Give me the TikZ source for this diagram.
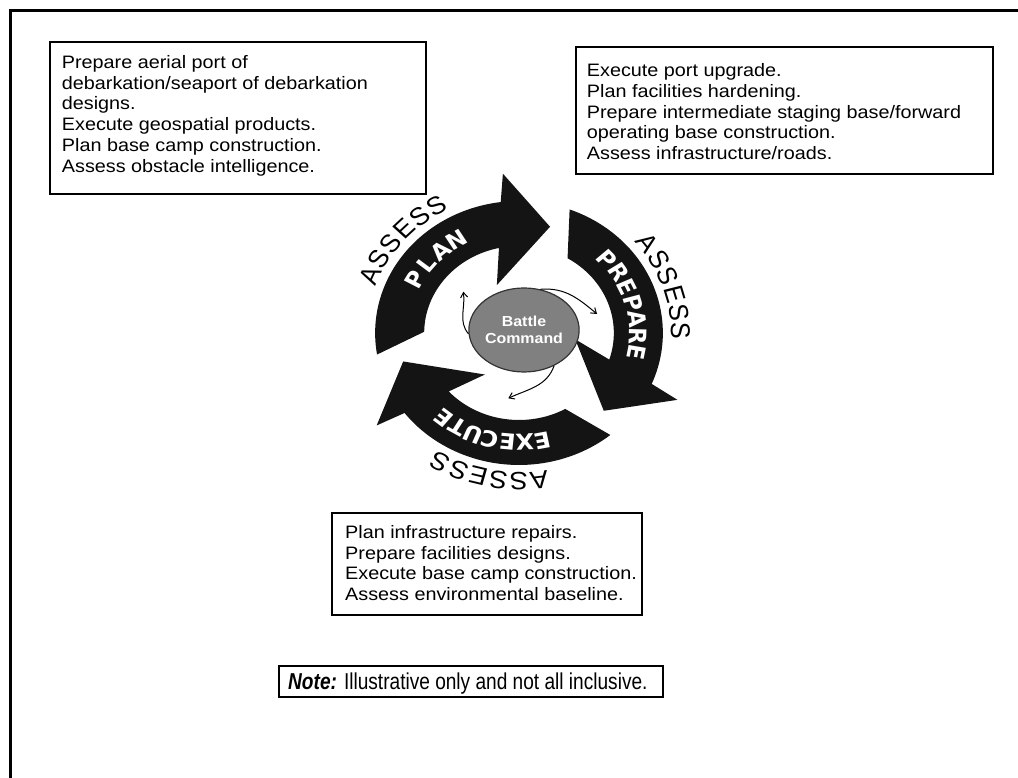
\documentclass[tikz,border=0pt]{standalone}
\usepackage{fontspec}
\setmainfont{Liberation Sans}
\newfontfamily\boxfont{Liberation Sans}[FakeStretch=1.1, WordSpace=0.8]
\newfontfamily\notefont{Liberation Sans}[FakeStretch=0.83]
\newfontfamily\headfont{DejaVu Sans}
\newfontfamily\bcfont{Liberation Sans}[FakeStretch=1.1]
\usetikzlibrary{shapes.geometric, arrows.meta}

\begin{document}
\begin{tikzpicture}[x=1pt, y=1pt,
  infobox/.style={draw, line width=1.3pt, inner sep=0pt},
  boxtext/.style={anchor=north west, inner sep=0pt, align=left,
    font=\boxfont\fontsize{18}{20.8}\selectfont},
  notetext/.style={anchor=north west, inner sep=0pt,
    font=\notefont\fontsize{23}{23}\selectfont},
  cyclearrow/.style={fill=black!92},
  arrowlabel/.style={text=white, inner sep=0pt,
    font=\headfont\bfseries\fontsize{22}{22}\selectfont},
  assesslabel/.style={text=black, inner sep=0pt,
    font=\fontsize{25}{25}\selectfont},
  bcnode/.style={ellipse, draw=black!80, line width=1.2pt, fill=black!50,
    minimum width=96pt, minimum height=84pt, inner sep=0pt, text=white,
    align=center, font=\bcfont\bfseries\fontsize{14.5}{17}\selectfont},
  cmdarrow/.style={line width=1pt, -{Straight Barb[length=5pt, width=7pt]}}
]
\useasboundingbox (0,0) rectangle (1018,778);

% page frame (top and left rules)
\draw[line width=3.3pt, line join=miter] (10.7,0) -- (10.7,767.3) -- (1018,767.3);

% task boxes
\node[infobox, minimum width=376pt, minimum height=152pt] (box1) at (238,660) {};
\node[boxtext] (text1) at (61.7,723) {Prepare aerial port of\\debarkation/seaport of debarkation\\designs.\\Execute geospatial products.\\Plan base camp construction.\\Assess obstacle intelligence.};

\node[infobox, minimum width=417pt, minimum height=127pt] (box2) at (784.5,667.5) {};
\node[boxtext] (text2) at (586.7,714.7) {Execute port upgrade.\\Plan facilities hardening.\\Prepare intermediate staging base/forward\\operating base construction.\\Assess infrastructure/roads.};

\node[infobox, minimum width=310pt, minimum height=102pt] (box3) at (487,214) {};
\node[boxtext] (text3) at (345,253) {Plan infrastructure repairs.\\Prepare facilities designs.\\Execute base camp construction.\\Assess environmental baseline.};

\node[infobox, minimum width=384pt, minimum height=31pt] (notebox) at (471,96.5) {};
\node[notetext] (notetxt) at (288,105) {\textbf{\textit{Note:}} Illustrative only and not all inclusive.};

% operations cycle: three curved arrows around the hub
\begin{scope}[shift={(519,445)}, xscale=1.09, transform shape]
  \foreach \t in {75,-45,195}{
    \pgfmathsetmacro\ao{\t+114.4}
    \pgfmathsetmacro\bo{\t+22.3}
    \pgfmathsetmacro\ai{\t+27.2}
    \pgfmathsetmacro\bi{\t+104.2}
    \pgfmathsetmacro\ob{\t+20.3}
    \pgfmathsetmacro\ib{\t+38}
    \fill[cyclearrow] (\ao:132) arc[start angle=\ao, end angle=\bo, radius=132]
      -- (\ob:160) -- (\t:110) -- (\ib:52) -- (\ai:87)
      arc[start angle=\ai, end angle=\bi, radius=87] -- cycle;
  }
  % phase names on the arrows
  \foreach \ch [count=\i] in {P,L,A,N}{
    \pgfmathsetmacro\a{136+(2.5-\i)*9.8}
    \node[arrowlabel, rotate=\a-90] (plan-\i) at (\a:109.5) {\ch};
  }
  \foreach \ch [count=\i] in {P,R,E,P,A,R,E}{
    \pgfmathsetmacro\a{16+(4-\i)*8.8}
    \node[arrowlabel, rotate=\a-90] (prepare-\i) at (\a:109.5) {\ch};
  }
  \foreach \ch [count=\i] in {E,X,E,C,U,T,E}{
    \pgfmathsetmacro\a{256+(4-\i)*8.4}
    \node[arrowlabel, rotate=\a-90] (execute-\i) at (\a:109.5) {\ch};
  }
  % ASSESS around each phase
  \foreach \c in {139,19,259}{
    \foreach \ch [count=\i] in {A,S,S,E,S,S}{
      \pgfmathsetmacro\a{\c+(3.5-\i)*7.3}
      \node[assesslabel, rotate=\a-90] (assess-\c-\i) at (\a:148) {\ch};
    }
  }
\end{scope}

% battle command hub
\node[bcnode] (bc) at (524,448) {Battle\\Command};
\coordinate (tipA) at (463.3,486.3);
\coordinate (tipB) at (597,464);
\coordinate (tipC) at (508.3,379.7);
\draw[cmdarrow] (bc.184) to[out=130, in=-82] (tipA);
\draw[cmdarrow] (bc.68) to[out=5, in=140] (tipB);
\draw[cmdarrow] (bc.-50) to[out=-110, in=25] (tipC);
\end{tikzpicture}
\end{document}
